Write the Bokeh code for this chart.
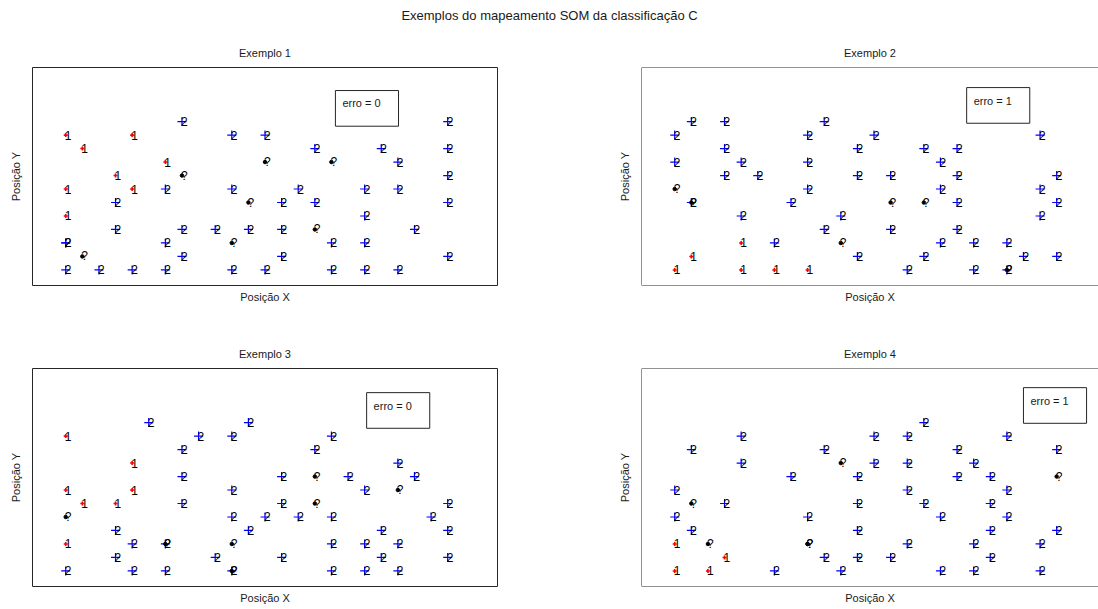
import math

from bokeh.core.properties import value
from bokeh.embed import file_html
from bokeh.layouts import column, row
from bokeh.models import ColumnDataSource, FixedTicker, Range1d, Span
from bokeh.plotting import figure
from bokeh.resources import INLINE

FONT = "Liberation Sans"

SUPTITLE = "Exemplos do mapeamento SOM da classificação C"
PANEL_TITLES = ["Exemplo 1", "Exemplo 2", "Exemplo 3", "Exemplo 4"]
X_LABEL = "Posição X"
Y_LABEL = "Posição Y"

# Winning neuron (column, row) on the 12x12 hexagonal map and class of each sample
exemplo1 = [
    (3, 11, "2"), (11, 11, "2"),
    (0, 10, "1"), (2, 10, "1"), (5, 10, "2"), (6, 10, "2"),
    (0, 9, "1"), (7, 9, "2"), (9, 9, "2"), (11, 9, "2"),
    (3, 8, "1"), (6, 8, "?"), (8, 8, "?"), (10, 8, "2"),
    (1, 7, "1"), (3, 7, "?"), (11, 7, "2"),
    (0, 6, "1"), (2, 6, "1"), (3, 6, "2"), (5, 6, "2"), (7, 6, "2"), (9, 6, "2"), (10, 6, "2"),
    (1, 5, "2"), (5, 5, "?"), (6, 5, "2"), (7, 5, "2"), (11, 5, "2"),
    (0, 4, "1"), (9, 4, "2"),
    (1, 3, "2"), (3, 3, "2"), (4, 3, "2"), (5, 3, "2"), (6, 3, "2"), (7, 3, "?"), (10, 3, "2"),
    (0, 2, "2"), (0, 2, "2"), (3, 2, "2"), (5, 2, "?"), (8, 2, "2"), (9, 2, "2"),
    (0, 1, "?"), (3, 1, "2"), (6, 1, "2"), (11, 1, "2"),
    (0, 0, "2"), (1, 0, "2"), (2, 0, "2"), (3, 0, "2"), (5, 0, "2"), (6, 0, "2"),
    (8, 0, "2"), (9, 0, "2"), (10, 0, "2"),
]

exemplo2 = [
    (0, 11, "2"), (1, 11, "2"), (4, 11, "2"),
    (0, 10, "2"), (4, 10, "2"), (6, 10, "2"), (11, 10, "2"),
    (1, 9, "2"), (5, 9, "2"), (7, 9, "2"), (8, 9, "2"),
    (0, 8, "2"), (2, 8, "2"), (4, 8, "2"), (8, 8, "2"),
    (1, 7, "2"), (2, 7, "2"), (5, 7, "2"), (6, 7, "2"), (8, 7, "2"), (11, 7, "2"),
    (0, 6, "?"), (4, 6, "2"), (8, 6, "2"), (11, 6, "2"),
    (0, 5, "2"), (0, 5, "?"), (3, 5, "2"), (6, 5, "?"), (7, 5, "?"), (8, 5, "2"), (11, 5, "2"),
    (2, 4, "2"), (5, 4, "2"), (11, 4, "2"),
    (4, 3, "2"), (6, 3, "2"), (8, 3, "2"),
    (2, 2, "1"), (3, 2, "2"), (5, 2, "?"), (8, 2, "2"), (9, 2, "2"), (10, 2, "2"),
    (0, 1, "1"), (5, 1, "2"), (7, 1, "2"), (10, 1, "2"), (11, 1, "2"),
    (0, 0, "1"), (2, 0, "1"), (3, 0, "1"), (4, 0, "1"), (7, 0, "2"), (9, 0, "2"),
    (10, 0, "2"), (10, 0, "?"),
]

exemplo3 = [
    (2, 11, "2"), (5, 11, "2"),
    (0, 10, "1"), (4, 10, "2"), (5, 10, "2"), (8, 10, "2"),
    (3, 9, "2"), (7, 9, "2"),
    (2, 8, "1"), (10, 8, "2"),
    (3, 7, "2"), (6, 7, "2"), (7, 7, "?"), (8, 7, "2"), (10, 7, "2"),
    (0, 6, "1"), (2, 6, "1"), (5, 6, "2"), (9, 6, "2"), (10, 6, "?"),
    (0, 5, "1"), (1, 5, "1"), (3, 5, "2"), (6, 5, "2"), (7, 5, "?"), (11, 5, "2"),
    (0, 4, "?"), (5, 4, "2"), (6, 4, "2"), (7, 4, "2"), (8, 4, "2"), (11, 4, "2"),
    (1, 3, "2"), (5, 3, "2"), (9, 3, "2"), (11, 3, "2"),
    (0, 2, "1"), (2, 2, "2"), (3, 2, "2"), (3, 2, "?"), (5, 2, "?"), (8, 2, "2"),
    (9, 2, "2"), (10, 2, "2"),
    (1, 1, "2"), (4, 1, "2"), (6, 1, "2"), (9, 1, "2"), (11, 1, "2"),
    (0, 0, "2"), (2, 0, "2"), (3, 0, "2"), (5, 0, "2"), (5, 0, "?"), (8, 0, "2"),
    (9, 0, "2"), (10, 0, "2"),
]

exemplo4 = [
    (7, 11, "2"),
    (2, 10, "2"), (6, 10, "2"), (7, 10, "2"), (10, 10, "2"),
    (0, 9, "2"), (4, 9, "2"), (8, 9, "2"), (11, 9, "2"),
    (2, 8, "2"), (5, 8, "?"), (6, 8, "2"), (7, 8, "2"), (9, 8, "2"),
    (3, 7, "2"), (5, 7, "2"), (8, 7, "2"), (9, 7, "2"), (11, 7, "?"),
    (0, 6, "2"), (7, 6, "2"), (10, 6, "2"),
    (0, 5, "?"), (1, 5, "2"), (5, 5, "2"), (7, 5, "2"), (9, 5, "2"),
    (0, 4, "2"), (4, 4, "2"), (8, 4, "2"), (10, 4, "2"),
    (0, 3, "2"), (5, 3, "2"), (9, 3, "2"), (11, 3, "2"),
    (0, 2, "1"), (1, 2, "?"), (4, 2, "?"), (4, 2, "?"), (7, 2, "2"), (9, 2, "2"), (11, 2, "2"),
    (1, 1, "1"), (4, 1, "2"), (5, 1, "2"), (6, 1, "2"), (9, 1, "2"),
    (0, 0, "1"), (1, 0, "1"), (3, 0, "2"), (5, 0, "2"), (8, 0, "2"), (9, 0, "2"), (11, 0, "2"),
]

erros = [0, 1, 0, 1]

# Where each "erro" note is anchored, in map units
ERRO_ANCHOR = [(8.33, 10.69), (9.0, 10.88), (9.27, 10.62), (10.71, 10.94)]

MARKER_STYLE = {
    "1": dict(marker="cross", color="#ff0000", size=4, line_width=1.6),
    "2": dict(marker="cross", color="#0000ff", size=9, line_width=1.2),
    "?": dict(marker="circle", color="#000000", size=3.5, line_width=1),
}

HEX_DY = math.sqrt(3) / 2
PX_PER_UNIT = 465 / 14.0


def hex_positions(units):
    xs = [c + 0.5 * (r % 2) for c, r, _ in units]
    ys = [r * HEX_DY for c, r, _ in units]
    labels = [lab for _, _, lab in units]
    return xs, ys, labels


def make_panel(units, title, erro, anchor, frame_width, border_left, border_right,
               border_top, border_bottom, closed_right):
    x_end = -1 + frame_width / PX_PER_UNIT
    p = figure(
        frame_width=frame_width, frame_height=218,
        x_range=Range1d(-1, x_end), y_range=Range1d(-1, 13),
        min_border_left=border_left, min_border_right=border_right,
        min_border_top=border_top, min_border_bottom=border_bottom,
        toolbar_location=None, output_backend="svg",
        background_fill_color="white", border_fill_color="white",
    )
    p.grid.visible = False
    p.title.text = title
    p.title.align = "center"
    p.title.text_font = FONT
    p.title.text_font_size = "11px"
    p.title.text_font_style = "normal"
    p.title.text_color = "#1a1a1a"
    p.title.standoff = 18

    for ax, label, standoff in ((p.xaxis[0], X_LABEL, 5), (p.yaxis[0], Y_LABEL, 11)):
        ax.ticker = FixedTicker(ticks=[])
        ax.major_tick_out = 0
        ax.major_tick_in = 0
        ax.minor_tick_out = 0
        ax.minor_tick_in = 0
        ax.major_label_standoff = 0
        ax.axis_line_color = None
        ax.axis_label = label
        ax.axis_label_text_font = FONT
        ax.axis_label_text_font_size = "11px"
        ax.axis_label_text_font_style = "normal"
        ax.axis_label_text_color = "#1a1a1a"
        ax.axis_label_standoff = standoff

    if closed_right:
        p.outline_line_color = "#262626"
        p.outline_line_width = 1
    else:
        p.outline_line_color = None
        for loc, dim in ((-1, "height"), (-1, "width"), (13, "width")):
            p.add_layout(Span(location=loc, dimension=dim, line_color="#262626", line_width=1))

    xs, ys, labels = hex_positions(units)
    for cls in ("2", "?", "1"):
        sel = [i for i, lab in enumerate(labels) if lab == cls]
        src = ColumnDataSource(dict(x=[xs[i] for i in sel], y=[ys[i] for i in sel],
                                    t=[labels[i] for i in sel]))
        st = MARKER_STYLE[cls]
        p.scatter("x", "y", source=src, marker=st["marker"], size=st["size"],
                  line_color=st["color"], fill_color=st["color"], line_width=st["line_width"])
        p.text("x", "y", text="t", source=src, text_font=value(FONT), text_font_size="12px",
               text_align="left", text_baseline="middle", x_offset=-1, y_offset=0,
               text_color="#000000")

    ax_, ay_ = anchor
    p.quad(left=[ax_ - 0.21], right=[ax_ + 1.69], top=[ay_ + 0.83], bottom=[ay_ - 1.46],
           fill_color="white", line_color="#262626", line_width=1)
    p.text(x=[ax_], y=[ay_], text=[f"erro = {erro}"], text_font=value(FONT),
           text_font_size="11px", text_align="left", text_baseline="middle",
           text_color="#1a1a1a")
    return p


header = figure(width=1098, height=30, x_range=Range1d(0, 1), y_range=Range1d(0, 1),
                toolbar_location=None, output_backend="svg", min_border=0)
header.axis.visible = False
header.grid.visible = False
header.outline_line_color = None
header.text(x=[0.5], y=[0.5], text=[SUPTITLE], text_font=value(FONT), text_font_size="13px",
            text_align="center", text_baseline="middle", text_color="#1a1a1a")

p1 = make_panel(exemplo1, PANEL_TITLES[0], erros[0], ERRO_ANCHOR[0], 465, 32, 113, 37, 46, True)
p2 = make_panel(exemplo2, PANEL_TITLES[1], erros[1], ERRO_ANCHOR[1], 457, 31, 0, 37, 46, False)
p3 = make_panel(exemplo3, PANEL_TITLES[2], erros[2], ERRO_ANCHOR[2], 465, 32, 113, 37, 23, True)
p4 = make_panel(exemplo4, PANEL_TITLES[3], erros[3], ERRO_ANCHOR[3], 457, 31, 0, 37, 23, False)

layout = column(header, row(p1, p2, spacing=0), row(p3, p4, spacing=0), spacing=0)

with open("out.html", "w") as f:
    f.write(file_html(layout, INLINE))
